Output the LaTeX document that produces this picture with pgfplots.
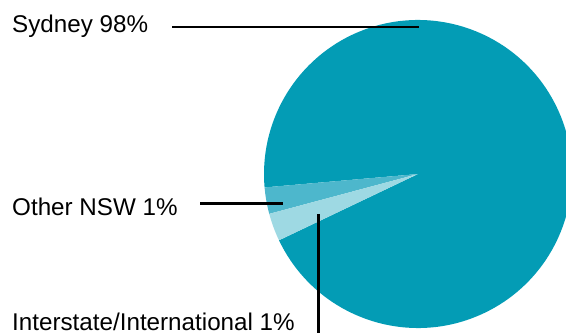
\documentclass[border=0pt]{standalone}
\usepackage{pgfplots}
\pgfplotsset{compat=1.18}
\usepackage{fontspec}
\setmainfont{Liberation Sans}
\definecolor{syd}{RGB}{3,156,181}
\definecolor{nsw}{RGB}{77,183,204}
\definecolor{intl}{RGB}{158,217,227}
\begin{document}
\begin{tikzpicture}
\useasboundingbox (0,0) rectangle (566pt,335pt);
\clip (0,0) rectangle (566pt,335pt);
\begin{axis}[at={(0,0)},anchor=south west,scale only axis,width=566pt,height=335pt,
  xmin=0,xmax=566,ymin=0,ymax=335,axis lines=none,clip=false]
% slices: start angle, end angle (degrees)
\def\cx{418}\def\cy{161}\def\r{154}
\fill[syd] (axis cs:\cx,\cy) -- ++(205.5:\r pt) arc[start angle=205.5,end angle=545,radius=\r pt] -- cycle;
\fill[nsw] (axis cs:\cx,\cy) -- ++(185:\r pt) arc[start angle=185,end angle=195,radius=\r pt] -- cycle;
\fill[intl] (axis cs:\cx,\cy) -- ++(195:\r pt) arc[start angle=195,end angle=205.5,radius=\r pt] -- cycle;
\addplot[black,line width=2.6pt] coordinates {(172,308) (419,308)};
\addplot[black,line width=2.6pt] coordinates {(200,131.5) (283,131.5)};
\addplot[black,line width=2.6pt] coordinates {(318.5,121) (318.5,2)};
\node[anchor=base west,inner sep=0,font=\fontsize{24.2}{26}\selectfont] at (axis cs:12,302) {Sydney 98\%};
\node[anchor=base west,inner sep=0,font=\fontsize{24.2}{26}\selectfont] at (axis cs:12,119) {Other NSW 1\%};
\node[anchor=base west,inner sep=0,font=\fontsize{24.2}{26}\selectfont] at (axis cs:12,4.5) {Interstate/International 1\%};
\end{axis}
\end{tikzpicture}
\end{document}
